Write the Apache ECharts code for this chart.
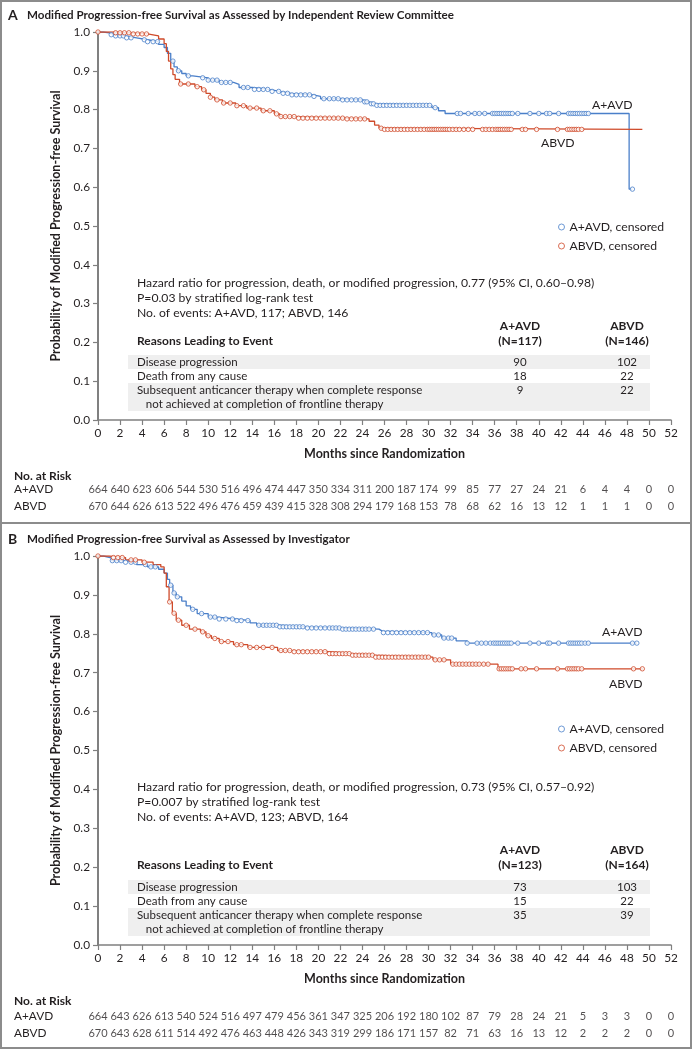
<!DOCTYPE html>
<html><head><meta charset="utf-8">
<script src="https://cdn.jsdelivr.net/npm/echarts@6/dist/echarts.min.js"></script>
<style>html,body{margin:0;padding:0;background:#fff}#c{width:693px;height:1050px}</style>
</head><body><div id="c"></div>
<script>
// ---------- DATA ----------
const xTicks = [0,2,4,6,8,10,12,14,16,18,20,22,24,26,28,30,32,34,36,38,40,42,44,46,48,50,52];
const yTicks = [0,0.1,0.2,0.3,0.4,0.5,0.6,0.7,0.8,0.9,1.0];
const armNames = ['A+AVD','ABVD'];

// Panel A (Independent Review Committee): KM steps [month, survival]
const ircAavdSteps = [[0,1],[0.5,0.998],[1,0.993],[1.5,0.99],[2.5,0.985],[3.5,0.98],[4.5,0.975],[5.5,0.968],[6,0.96],[6.3,0.945],[6.6,0.925],[6.9,0.91],[7.2,0.9],[7.6,0.893],[8,0.887],[8.6,0.882],[10,0.876],[11,0.87],[12.3,0.865],[12.8,0.857],[14,0.852],[15.5,0.847],[16.5,0.842],[17.5,0.838],[19.5,0.834],[20.2,0.828],[22,0.825],[24,0.82],[24.6,0.815],[25.2,0.811],[30.3,0.805],[30.9,0.797],[31.5,0.79],[48.2,0.595],[48.5,0.595]];
const ircAbvdSteps = [[0,1],[1.5,0.998],[3,0.995],[4.5,0.99],[5.5,0.982],[6,0.97],[6.2,0.95],[6.4,0.925],[6.6,0.905],[6.8,0.89],[7,0.878],[7.4,0.866],[8.8,0.859],[9.4,0.851],[9.8,0.842],[10.2,0.832],[10.6,0.825],[11.3,0.817],[12.5,0.81],[13.5,0.804],[14.8,0.797],[16,0.789],[16.5,0.782],[18,0.778],[22.5,0.776],[24.6,0.77],[25.1,0.76],[25.5,0.752],[26,0.749],[49.4,0.749]];
const ircAavdCensor = [1.2,1.6,2.0,2.3,2.6,3.0,4.2,4.5,5.0,5.4,6.8,7.3,8.2,9.5,10.0,10.4,10.8,11.2,11.6,12.0,13.2,13.6,14.2,14.6,15.0,15.4,15.8,16.4,16.8,17.2,17.6,18.0,18.4,18.8,19.2,19.6,20.5,21.0,21.4,21.8,22.2,22.6,23.0,23.4,23.8,24.2,24.4,24.8,25.0,25.3,25.6,25.9,26.2,26.5,26.8,27.1,27.4,27.7,28.0,28.3,28.6,28.9,29.2,29.5,29.8,30.1,30.6,32.6,32.9,33.6,34.2,34.6,35.1,35.8,36.0,36.2,36.4,36.6,36.8,37.0,37.2,37.4,37.6,38.1,39.2,40.0,40.7,41.0,41.8,42.7,42.9,43.1,43.3,43.5,43.7,43.9,44.1,44.3,44.5,48.5];
const ircAbvdCensor = [0.0,1.6,2.0,2.4,2.8,3.2,3.6,4.0,4.4,7.5,8.2,9.0,9.6,10.2,10.8,11.4,12.0,12.6,13.2,13.8,14.4,15.0,15.6,16.2,16.6,17.0,17.4,17.8,18.2,18.6,19.0,19.4,19.8,20.2,20.6,21.0,21.4,21.8,22.2,22.6,23.0,23.4,23.8,24.2,25.7,26.0,26.3,26.6,26.9,27.2,27.5,27.8,28.1,28.4,28.7,29.0,29.3,29.6,29.9,30.1,30.3,30.5,30.7,30.9,31.1,31.3,31.5,31.7,31.9,32.2,32.5,32.8,33.2,33.6,34.0,34.9,35.2,35.5,35.8,36.1,36.3,36.5,36.7,36.9,37.1,37.3,37.5,38.5,38.8,39.8,41.7,42.6,42.8,43.0,43.2,43.4,43.6,43.9];

// Panel B (Investigator)
const invAavdSteps = [[0,1],[0.5,0.995],[1.2,0.988],[2.5,0.984],[3.5,0.978],[4.5,0.972],[5.5,0.966],[6,0.956],[6.3,0.94],[6.5,0.925],[6.8,0.905],[7.1,0.895],[7.6,0.884],[8,0.872],[8.4,0.863],[9,0.852],[10,0.843],[10.8,0.838],[12.5,0.834],[13.8,0.828],[14.4,0.822],[16.5,0.818],[19,0.815],[22,0.812],[25.5,0.807],[25.8,0.803],[30.3,0.797],[31.2,0.789],[32.5,0.782],[33.5,0.776],[48.9,0.776]];
const invAbvdSteps = [[0,1],[1,0.996],[2.5,0.99],[4,0.984],[5,0.978],[5.7,0.972],[6,0.956],[6.2,0.921],[6.45,0.882],[6.75,0.853],[7.1,0.835],[7.6,0.822],[8.3,0.812],[9.3,0.805],[9.8,0.795],[10.3,0.788],[11,0.78],[12.3,0.772],[13.6,0.765],[16.3,0.757],[17.5,0.754],[21,0.749],[23,0.745],[25,0.74],[30.4,0.733],[32,0.722],[36.3,0.71],[49.5,0.71]];
const invAavdCensor = [1.3,1.7,2.1,2.5,3.0,3.4,4.3,4.8,5.2,6.6,6.9,7.2,8.6,9.4,10.2,10.6,11.0,11.6,12.2,12.6,13.0,13.6,14.6,15.0,15.3,15.6,15.9,16.2,16.5,16.8,17.1,17.4,17.7,18.0,18.3,18.6,19.0,19.4,19.8,20.2,20.6,21.0,21.3,21.6,21.9,22.2,22.5,22.8,23.1,23.4,23.7,24.0,24.3,24.6,25.0,25.9,26.3,26.7,27.1,27.5,27.9,28.3,28.7,29.1,29.5,29.9,30.5,30.9,31.4,31.8,32.1,33.5,34.4,34.8,35.2,35.6,35.9,36.1,36.3,36.5,36.7,36.9,37.1,37.3,37.5,38.1,39.2,40.0,40.8,41.0,41.8,42.7,42.9,43.1,43.3,43.5,43.7,43.9,44.2,44.5,48.5,48.9];
const invAbvdCensor = [0.0,1.4,1.8,2.2,3.0,3.4,4.2,6.5,6.9,7.3,8.0,8.8,9.5,10.0,10.6,11.2,11.8,12.6,13.0,13.8,14.4,15.0,15.8,16.6,17.0,17.4,17.8,18.2,18.6,19.0,19.4,19.8,20.2,20.6,21.0,21.3,21.6,21.9,22.2,22.5,22.8,23.1,23.4,23.7,24.0,24.3,24.6,24.9,25.2,25.5,25.8,26.1,26.4,26.7,27.0,27.3,27.6,27.9,28.2,28.5,28.8,29.1,29.4,29.7,30.0,30.6,31.0,31.4,32.2,32.5,32.8,33.1,33.4,33.7,34.0,34.3,34.6,35.0,35.4,36.4,36.6,36.8,37.0,37.2,37.4,37.6,38.4,38.8,39.8,41.7,42.6,42.8,43.0,43.2,43.4,43.6,43.9,48.6,49.4];

// Numbers at risk
const ircRiskAavd = [664,640,623,606,544,530,516,496,474,447,350,334,311,200,187,174,99,85,77,27,24,21,6,4,4,0,0];
const ircRiskAbvd = [670,644,626,613,522,496,476,459,439,415,328,308,294,179,168,153,78,68,62,16,13,12,1,1,1,0,0];
const invRiskAavd = [664,643,626,613,540,524,516,497,479,456,361,347,325,206,192,180,102,87,79,28,24,21,5,3,3,0,0];
const invRiskAbvd = [670,643,628,611,514,492,476,463,448,426,343,319,299,186,171,157,82,71,63,16,13,12,2,2,2,0,0];

// Text
const titleA = 'Modified Progression-free Survival as Assessed by Independent Review Committee';
const titleB = 'Modified Progression-free Survival as Assessed by Investigator';
const statsA = ['Hazard ratio for progression, death, or modified progression, 0.77 (95% CI, 0.60\u20130.98)','P=0.03 by stratified log-rank test','No. of events: A+AVD, 117; ABVD, 146'];
const statsB = ['Hazard ratio for progression, death, or modified progression, 0.73 (95% CI, 0.57\u20130.92)','P=0.007 by stratified log-rank test','No. of events: A+AVD, 123; ABVD, 164'];
const reasons = ['Disease progression','Death from any cause','Subsequent anticancer therapy when complete response','   not achieved at completion of frontline therapy'];
const headerNA = ['(N=117)','(N=146)'];
const headerNB = ['(N=123)','(N=164)'];
const reasonsA_aavd = [90,18,9], reasonsA_abvd = [102,22,22];
const reasonsB_aavd = [73,15,35], reasonsB_abvd = [103,22,39];

// ---------- STYLE ----------
const BLUE = '#4a7fc9', RED = '#cf4a2a', AX = '#808080', TXT = '#231f20';
const FONT = 'Lato';

function survAt(steps, t){ let v = steps[0][1]; for (const s of steps){ if (s[0] <= t) v = s[1]; else break; } return v; }
function censorData(steps, times){ return times.map(t => [t, survAt(steps, t)]); }

const chart = echarts.init(document.getElementById('c'), null, {renderer:'canvas'});

const gridA = {left:98, right:22, top:32, height:388};
const gridB = {left:98, right:22, top:556, height:389};
const riskA = {left:98, right:22, top:481, height:34};
const riskB = {left:98, right:22, top:1008, height:34};

function mainX(gi){ return {gridIndex:gi, type:'value', min:0, max:52, interval:2,
  name:'Months since Randomization', nameLocation:'middle', nameGap:27,
  nameTextStyle:{fontFamily:FONT, fontSize:12.5, fontWeight:'bold', color:TXT},
  axisLine:{lineStyle:{color:AX, width:1.5}}, axisTick:{length:5, lineStyle:{color:AX,width:1.2}},
  axisLabel:{fontFamily:FONT, fontSize:11.8, color:TXT, margin:7, formatter:v=>xTicks.includes(v)?String(v):''},
  splitLine:{show:false}}; }
function mainY(gi){ return {gridIndex:gi, type:'value', min:0, max:1, interval:0.1,
  name:'Probability of Modified Progression-free Survival', nameLocation:'middle', nameGap:36,
  nameTextStyle:{fontFamily:FONT, fontSize:12.5, fontWeight:'bold', color:TXT},
  axisLine:{lineStyle:{color:AX, width:2}}, axisTick:{length:5, lineStyle:{color:AX,width:1.2}},
  axisLabel:{fontFamily:FONT, fontSize:11.8, color:TXT, margin:8, formatter:v=>{const t=yTicks.find(y=>Math.abs(y-v)<1e-6);return t===undefined?'':t.toFixed(1);}},
  splitLine:{show:false}}; }
function riskX(gi){ return {gridIndex:gi, type:'value', min:0, max:52, show:false}; }
function riskY(gi){ return {gridIndex:gi, type:'category', data:armNames, inverse:true,
  axisLine:{show:false}, axisTick:{show:false}, splitLine:{show:false},
  axisLabel:{fontFamily:FONT, fontSize:11.8, color:TXT, align:'left', margin:84}}; }

function kmLine(name, steps, color, gi){ return {type:'line', name:name, xAxisIndex:gi, yAxisIndex:gi, data:steps, step:'end',
  showSymbol:false, symbol:'none', lineStyle:{color:color, width:1.3}, itemStyle:{color:color}, z:2, silent:true, animation:false}; }
function censor(name, steps, times, color, gi){ return {type:'scatter', name:name, xAxisIndex:gi, yAxisIndex:gi, data:censorData(steps,times),
  symbol:'circle', symbolSize:4.4, itemStyle:{color:'#ffffff', borderColor:color, borderWidth:1}, z:3, silent:true, animation:false}; }
function riskRow(counts, arm, gi){ return {type:'scatter', xAxisIndex:gi, yAxisIndex:gi, data:xTicks.map((m,i)=>[m, arm, counts[i]]),
  symbolSize:1, itemStyle:{color:'rgba(0,0,0,0)'}, silent:true, animation:false,
  label:{show:true, position:'inside', formatter:p=>String(p.data[2]), fontFamily:FONT, fontSize:11, color:TXT}}; }

const G = [];
function T(x,y,s,opt){ G.push({type:'text', x:x, y:y, silent:true, style:Object.assign({text:s, fill:TXT, fontFamily:FONT, fontSize:11.5, verticalAlign:'middle', align:'left'}, opt||{})}); }
function R(x,y,w,h,fill){ G.push({type:'rect', shape:{x:x,y:y,width:w,height:h}, silent:true, z:-1, style:{fill:fill}}); }

// frame
G.push({type:'rect', shape:{x:1,y:1,width:690,height:1047}, silent:true, style:{fill:'none', stroke:'#8c8c8c', lineWidth:2}, z:10});
G.push({type:'line', shape:{x1:1,y1:523,x2:691,y2:523}, silent:true, style:{stroke:'#8c8c8c', lineWidth:2}, z:10});

function panel(off, letter, title, stats, headerN, vA, vB, rowY, hdrY, statY, bandY, labelPos, riskTitleY){
  T(8, off, letter, {fontSize:14, fontWeight:'bold'});
  T(27, off, title, {fontSize:11.6, fontWeight:'bold'});
  stats.forEach((s,i)=>T(137, statY+i*14.8, s, {fontSize:12.2}));
  T(520, hdrY, 'A+AVD', {fontWeight:'bold', align:'center', fontSize:12});
  T(627, hdrY, 'ABVD', {fontWeight:'bold', align:'center', fontSize:12});
  T(520, hdrY+15, headerN[0], {fontWeight:'bold', align:'center', fontSize:12});
  T(627, hdrY+15, headerN[1], {fontWeight:'bold', align:'center', fontSize:12});
  T(137, hdrY+15, 'Reasons Leading to Event', {fontWeight:'bold', fontSize:12});
  R(128, bandY, 522, 14, '#efefef');
  R(128, bandY+28, 522, 28, '#efefef');
  reasons.forEach((s,i)=>T(137, rowY + i*14, s));
  [0,1,2].forEach(i=>{
    T(520, rowY+i*14, String(vA[i]), {align:'center'});
    T(627, rowY+i*14, String(vB[i]), {align:'center'});
  });
  T(labelPos[0][0], labelPos[0][1], 'A+AVD', {fontSize:12.2});
  T(labelPos[1][0], labelPos[1][1], 'ABVD', {fontSize:12.2});
  T(14, riskTitleY, 'No. at Risk', {fontWeight:'bold', fontSize:12});
}
panel(15, 'A', titleA, statsA, headerNA, reasonsA_aavd, reasonsA_abvd, 362, 326, 283, 355, [[592,105],[541,143]], 476);
panel(539, 'B', titleB, statsB, headerNB, reasonsB_aavd, reasonsB_abvd, 887, 850, 787, 880, [[602,632],[609,684]], 1001);

function legend(top){ return {orient:'vertical', left:553, top:top, itemWidth:6, itemHeight:6, itemGap:7, selectedMode:false,
  textStyle:{fontFamily:FONT, fontSize:12.2, color:TXT},
  data:[{name:'A+AVD, censored', icon:'circle', itemStyle:{color:'#fff', borderColor:BLUE, borderWidth:1}},
        {name:'ABVD, censored', icon:'circle', itemStyle:{color:'#fff', borderColor:RED, borderWidth:1}}]}; }

chart.setOption({
  animation:false,
  grid:[gridA, gridB, riskA, riskB],
  xAxis:[mainX(0), mainX(1), riskX(2), riskX(3)],
  yAxis:[mainY(0), mainY(1), riskY(2), riskY(3)],
  legend:[legend(216), legend(718)],
  series:[
    kmLine('A+AVD', ircAavdSteps, BLUE, 0), kmLine('ABVD', ircAbvdSteps, RED, 0),
    censor('A+AVD, censored', ircAavdSteps, ircAavdCensor, BLUE, 0), censor('ABVD, censored', ircAbvdSteps, ircAbvdCensor, RED, 0),
    kmLine('A+AVD', invAavdSteps, BLUE, 1), kmLine('ABVD', invAbvdSteps, RED, 1),
    censor('A+AVD, censored', invAavdSteps, invAavdCensor, BLUE, 1), censor('ABVD, censored', invAbvdSteps, invAbvdCensor, RED, 1),
    riskRow(ircRiskAavd, 'A+AVD', 2), riskRow(ircRiskAbvd, 'ABVD', 2),
    riskRow(invRiskAavd, 'A+AVD', 3), riskRow(invRiskAbvd, 'ABVD', 3)
  ],
  graphic:G
});
</script></body></html>
